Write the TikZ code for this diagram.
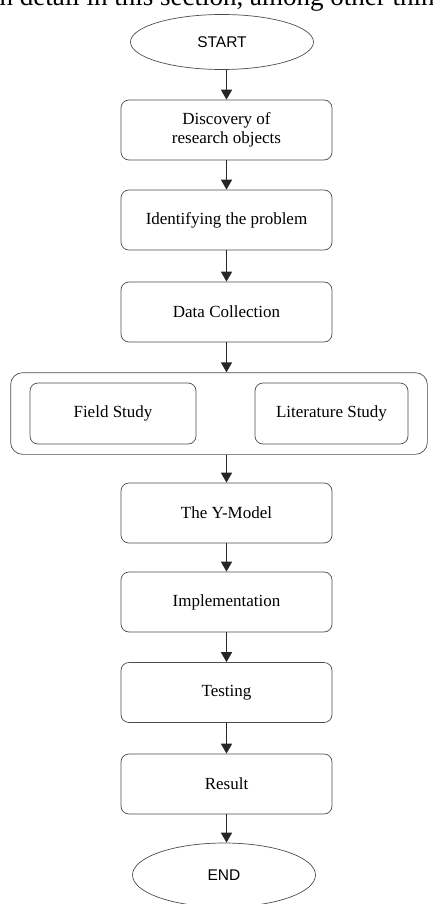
\documentclass[tikz,border=0pt]{standalone}
\usepackage{fontspec}
\setmainfont{Liberation Serif}
\newfontfamily\startfont{Liberation Sans}
\usetikzlibrary{positioning, fit, shapes.geometric, arrows.meta}

\begin{document}
\begin{tikzpicture}[
    x=1pt, y=-1pt,
    font=\fontsize{17}{20}\selectfont,
    >={Triangle[width=11pt, length=10pt]},
    term/.style={ellipse, draw=black!70, line width=0.7pt, minimum width=183pt, minimum height=55pt, inner sep=0pt, font=\startfont\fontsize{15.5}{18}\selectfont},
    stepbox/.style={rectangle, draw=black!70, line width=0.7pt, rounded corners=8pt, minimum width=211pt, minimum height=60pt, align=center},
    subbox/.style={rectangle, draw=black!70, line width=0.7pt, rounded corners=8pt, minimum height=61pt},
    groupbox/.style={rectangle, draw=black!70, line width=0.7pt, rounded corners=12pt, inner xsep=19pt, inner ysep=10pt},
    flow/.style={->, line width=1.5pt, black!85}
]

% Page window
\useasboundingbox (0,0) rectangle (432,904);
\clip (0,0) rectangle (432,904);

% Cut line of body text above the figure
\node[anchor=base west, inner sep=0pt, font=\fontsize{27}{31}\selectfont] (bodytext) at (-8, 6) {in detail in this section, among other things};

% Start and steps
\node[term]    (start)     at (222, 42)  {START};
\node[stepbox] (discovery) at (226.5, 130) {Discovery of\\[-1pt]research objects};
\node[stepbox] (problem)   at (226.5, 220) {Identifying the problem};
\node[stepbox] (collect)   at (226.5, 312) {Data Collection};

% Data sources
\node[subbox, minimum width=166pt] (field) at (113, 413.5)   {Field Study};
\node[subbox, minimum width=153pt] (lit)   at (331.5, 413.5) {Literature Study};
\node[groupbox, fit=(field) (lit)] (sources) {};

% Remaining steps
\node[stepbox] (ymodel)    at (226.5, 513) {The Y-Model};
\node[stepbox] (implement) at (226.5, 602) {Implementation};
\node[stepbox] (testing)   at (226.5, 692.5) {Testing};
\node[stepbox] (result)    at (226.5, 784) {Result};
\node[term, minimum height=64pt] (finish) at (224, 875) {END};

% Connectors
\draw[flow] (start.south -| discovery.north) -- (discovery.north);
\draw[flow] (discovery) -- (problem);
\draw[flow] (problem) -- (collect);
\draw[flow] (collect.south) -- (collect.south |- sources.north);
\draw[flow] (collect.south |- sources.south) -- (ymodel.north);
\draw[flow] (ymodel) -- (implement);
\draw[flow] (implement) -- (testing);
\draw[flow] (testing) -- (result);
\draw[flow] (result.south) -- (result.south |- finish.north);

\end{tikzpicture}
\end{document}
